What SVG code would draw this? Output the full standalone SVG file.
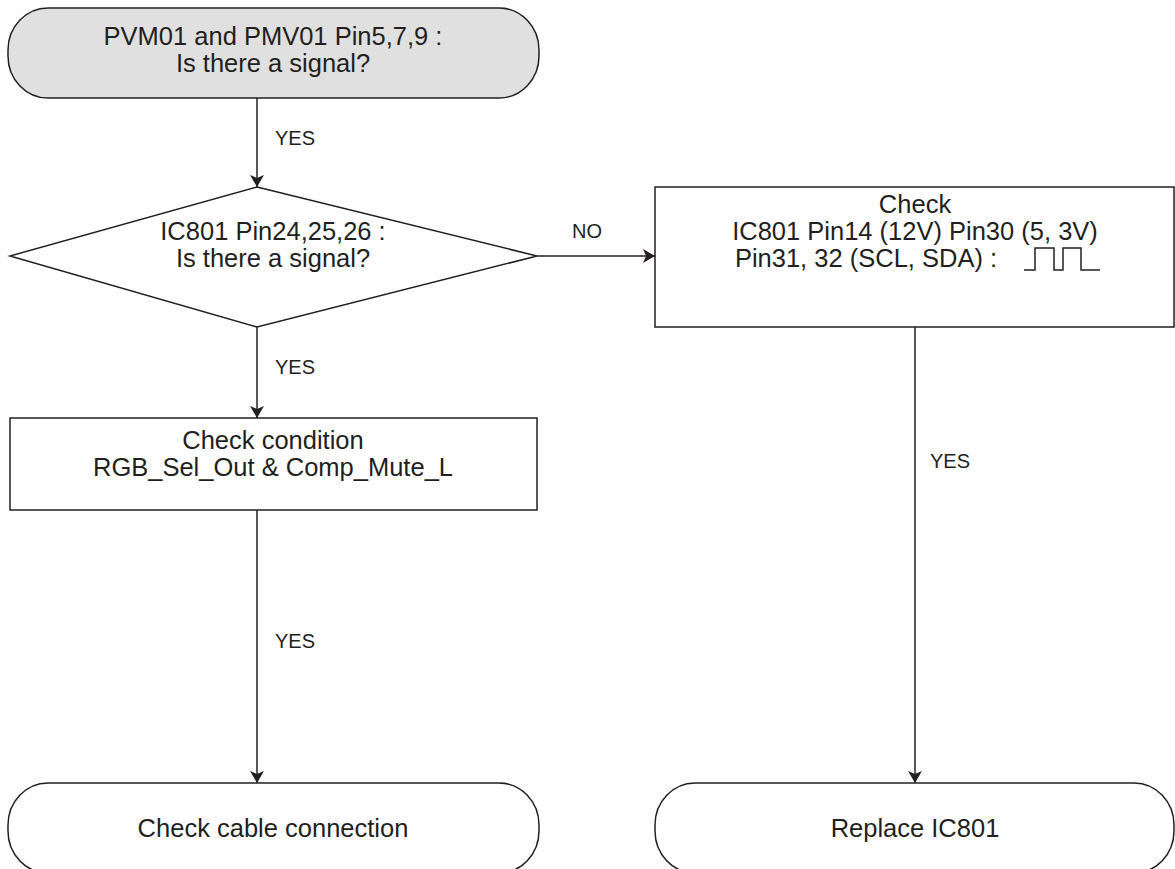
<svg xmlns="http://www.w3.org/2000/svg" width="1175" height="869" viewBox="0 0 1175 869">
<defs>
<marker id="arr" viewBox="0 0 12 14" refX="12" refY="7" markerWidth="12" markerHeight="14" markerUnits="userSpaceOnUse" orient="auto">
<path d="M0,0 L12,7 L0,14 L3,7 Z" fill="#231f20"/>
</marker>
<style>
.n{fill:#fff;stroke:#231f20;stroke-width:1.5}
.g{fill:#e0e0e0;stroke:#231f20;stroke-width:1.5}
.t{font-family:"Liberation Sans",Arial,sans-serif;font-size:25.5px;fill:#231f20;text-anchor:middle}
.l{font-family:"Liberation Sans",Arial,sans-serif;font-size:20px;fill:#231f20}
.c{stroke:#231f20;stroke-width:1.5;fill:none}
</style>
</defs>
<rect width="1175" height="869" fill="#fff"/>
<g id="start">
<rect class="g" x="8" y="8" width="531" height="90" rx="40" ry="42"/>
<text class="t" x="273" y="45">PVM01 and PMV01 Pin5,7,9 :</text>
<text class="t" x="273" y="72">Is there a signal?</text>
</g>
<g id="decision">
<polygon class="n" points="257,187 537,256 257,327 10,256"/>
<text class="t" x="273" y="240">IC801 Pin24,25,26 :</text>
<text class="t" x="273" y="267">Is there a signal?</text>
</g>
<g id="checkIC">
<rect class="n" x="655" y="187" width="519" height="140"/>
<text class="t" x="915" y="213">Check</text>
<text class="t" x="915" y="240">IC801 Pin14 (12V) Pin30 (5, 3V)</text>
<text class="t" x="866" y="267">Pin31, 32 (SCL, SDA) :</text>
<polyline class="c" points="1024,270 1035,270 1035,248 1054,248 1054,270 1063,270 1063,248 1081,248 1081,270 1100,270"/>
</g>
<g id="checkCond">
<rect class="n" x="10" y="418" width="527" height="92"/>
<text class="t" x="273" y="449">Check condition</text>
<text class="t" x="273" y="476">RGB_Sel_Out &amp; Comp_Mute_L</text>
</g>
<g id="endCable">
<rect class="n" x="8" y="783" width="531" height="90" rx="40" ry="42"/>
<text class="t" x="273" y="837">Check cable connection</text>
</g>
<g id="endReplace">
<rect class="n" x="655" y="783" width="519" height="90" rx="40" ry="42"/>
<text class="t" x="915" y="837">Replace IC801</text>
</g>
<g id="connectors">
<line class="c" x1="257" y1="98" x2="257" y2="187" marker-end="url(#arr)"/>
<line class="c" x1="537" y1="256" x2="655" y2="256" marker-end="url(#arr)"/>
<line class="c" x1="257" y1="327" x2="257" y2="418" marker-end="url(#arr)"/>
<line class="c" x1="257" y1="510" x2="257" y2="783" marker-end="url(#arr)"/>
<line class="c" x1="915" y1="327" x2="915" y2="783" marker-end="url(#arr)"/>
<text class="l" x="275" y="145">YES</text>
<text class="l" x="572" y="238">NO</text>
<text class="l" x="275" y="374">YES</text>
<text class="l" x="275" y="648">YES</text>
<text class="l" x="930" y="468">YES</text>
</g>
</svg>
